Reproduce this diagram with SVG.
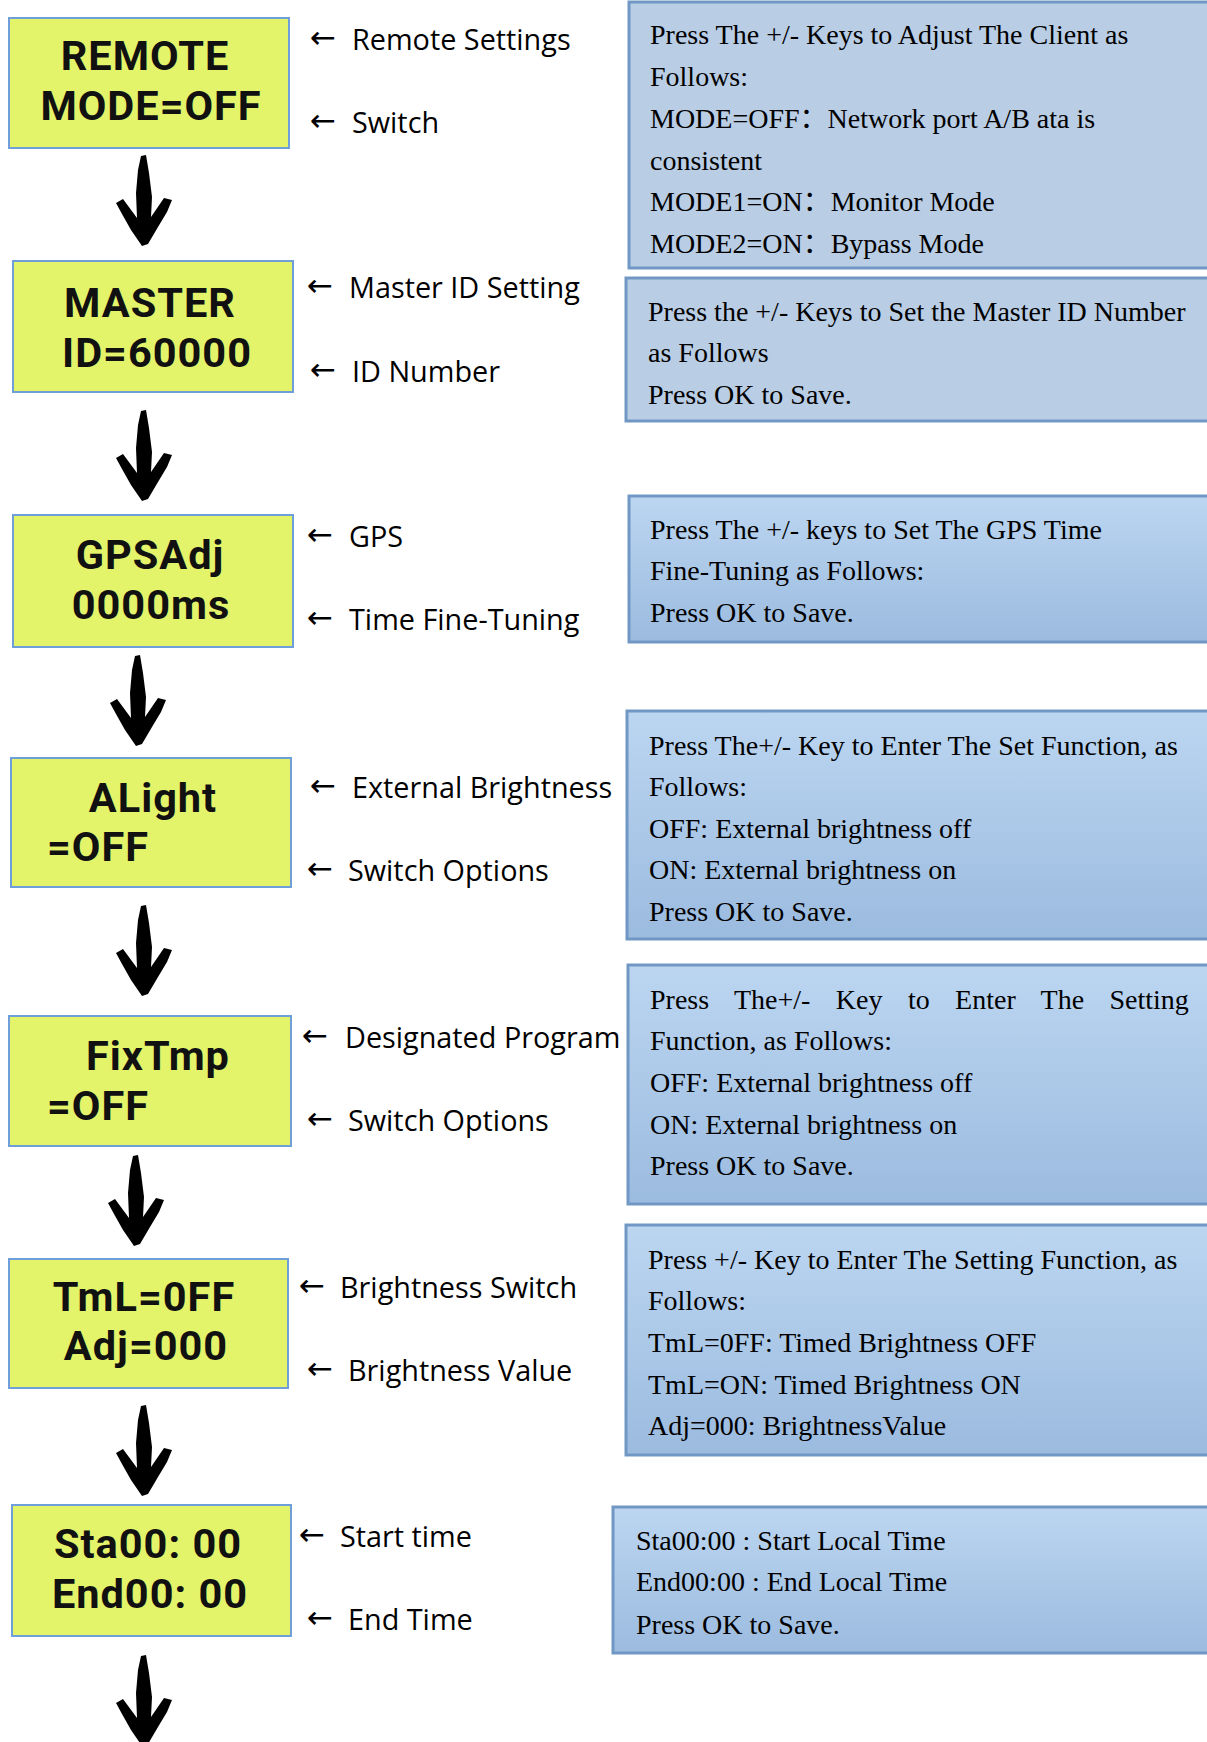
<svg xmlns="http://www.w3.org/2000/svg" width="1207" height="1742" viewBox="0 0 1207 1742">
<style>
.ybox{fill:#e3f36a;stroke:#6f9fd8;stroke-width:2}
.bflat{fill:#b9cde5;stroke:#7198c4;stroke-width:3}
.bgrad{fill:url(#bg);stroke:#7198c4;stroke-width:3}
.yt{font-family:Roboto,"Noto Sans",sans-serif;font-weight:bold;font-size:41.5px;letter-spacing:1px;fill:#111;text-anchor:middle}
.yl{text-anchor:start}
.lab{font-family:"Open Sans","Noto Sans",sans-serif;font-size:28.8px;fill:#000}
.arr{font-family:"DejaVu Sans",sans-serif;font-size:31px;fill:#000}
.bt{font-family:"Liberation Serif","Noto Sans CJK SC",serif;font-size:28px;fill:#000}
.hand{fill:#000}
</style>
<defs>
<linearGradient id="bg" x1="0" y1="0" x2="0" y2="1">
<stop offset="0" stop-color="#bcd6f1"/>
<stop offset="1" stop-color="#9bbbdf"/>
</linearGradient>
<path id="down" class="hand" d="M -3,-89 L 2,-90 L 5,-72 L 8,-48 L 7,-28 L 20,-47 L 28,-45 L 23,-33 L 14,-18 L 4,-1 L -2,1 L -13,-15 L -22,-31 L -28,-42 L -21,-46 L -7,-27 L -8,-52 L -6,-75 Z"/>
</defs>
<rect width="1207" height="1742" fill="#fff"/>

<g id="connectors">
<use href="#down" x="144" y="245"/>
<use href="#down" x="144" y="500"/>
<use href="#down" x="138" y="745"/>
<use href="#down" x="144" y="995"/>
<use href="#down" x="136" y="1245"/>
<use href="#down" x="144" y="1495"/>
<use href="#down" x="144" y="1745"/>
</g>

<g id="node-remote">
<rect class="ybox" x="9" y="18" width="280" height="130"/>
<text class="yt"><tspan x="145" y="70">REMOTE</tspan><tspan x="151" y="120">MODE=OFF</tspan></text>
</g>
<g id="label-remote">
<text class="arr" x="310" y="48">←</text><text class="lab" x="352" y="50">Remote Settings</text>
<text class="arr" x="310" y="131">←</text><text class="lab" x="352" y="133">Switch</text>
</g>
<g id="info-remote">
<rect class="bflat" x="629" y="2" width="580" height="266"/>
<text class="bt" x="650" y="44">Press The +/- Keys to Adjust The Client as</text>
<text class="bt" x="650" y="86">Follows:</text>
<text class="bt" x="650" y="128">MODE=OFF：Network port A/B ata is</text>
<text class="bt" x="650" y="170">consistent</text>
<text class="bt" x="650" y="211">MODE1=ON：Monitor Mode</text>
<text class="bt" x="650" y="253">MODE2=ON：Bypass Mode</text>
</g>

<g id="node-master">
<rect class="ybox" x="13" y="261" width="280" height="131"/>
<text class="yt"><tspan x="150" y="317">MASTER</tspan><tspan x="157" y="367">ID=60000</tspan></text>
</g>
<g id="label-master">
<text class="arr" x="307" y="296">←</text><text class="lab" x="349" y="298">Master ID Setting</text>
<text class="arr" x="310" y="380">←</text><text class="lab" x="352" y="382">ID Number</text>
</g>
<g id="info-master">
<rect class="bflat" x="626" y="278" width="583" height="143"/>
<text class="bt" x="648" y="321">Press the +/- Keys to Set the Master ID Number</text>
<text class="bt" x="648" y="362">as Follows</text>
<text class="bt" x="648" y="404">Press OK to Save.</text>
</g>

<g id="node-gps">
<rect class="ybox" x="13" y="515" width="280" height="132"/>
<text class="yt"><tspan x="150" y="569">GPSAdj</tspan><tspan x="151" y="619">0000ms</tspan></text>
</g>
<g id="label-gps">
<text class="arr" x="307" y="545">←</text><text class="lab" x="349" y="547">GPS</text>
<text class="arr" x="307" y="628">←</text><text class="lab" x="349" y="630">Time Fine-Tuning</text>
</g>
<g id="info-gps">
<rect class="bgrad" x="629" y="496" width="580" height="146"/>
<text class="bt" x="650" y="539">Press The +/- keys to Set The GPS Time</text>
<text class="bt" x="650" y="580">Fine-Tuning as Follows:</text>
<text class="bt" x="650" y="622">Press OK to Save.</text>
</g>

<g id="node-alight">
<rect class="ybox" x="11" y="758" width="280" height="129"/>
<text class="yt"><tspan x="153" y="812">ALight</tspan><tspan class="yl" x="47" y="861">=OFF</tspan></text>
</g>
<g id="label-alight">
<text class="arr" x="310" y="796">←</text><text class="lab" x="352" y="798">External Brightness</text>
<text class="arr" x="307" y="879">←</text><text class="lab" x="348" y="881">Switch Options</text>
</g>
<g id="info-alight">
<rect class="bgrad" x="627" y="711" width="582" height="228"/>
<text class="bt" x="649" y="755">Press The+/- Key to Enter The Set Function, as</text>
<text class="bt" x="649" y="796">Follows:</text>
<text class="bt" x="649" y="838">OFF: External brightness off</text>
<text class="bt" x="649" y="879">ON: External brightness on</text>
<text class="bt" x="649" y="921">Press OK to Save.</text>
</g>

<g id="node-fixtmp">
<rect class="ybox" x="9" y="1016" width="282" height="130"/>
<text class="yt"><tspan x="158" y="1070">FixTmp</tspan><tspan class="yl" x="47" y="1120">=OFF</tspan></text>
</g>
<g id="label-fixtmp">
<text class="arr" x="302" y="1046">←</text><text class="lab" x="345" y="1048">Designated Program</text>
<text class="arr" x="307" y="1129">←</text><text class="lab" x="348" y="1131">Switch Options</text>
</g>
<g id="info-fixtmp">
<rect class="bgrad" x="628" y="965" width="581" height="239"/>
<text class="bt" x="650" y="1009" word-spacing="18.4">Press The+/- Key to Enter The Setting</text>
<text class="bt" x="650" y="1050">Function, as Follows:</text>
<text class="bt" x="650" y="1092">OFF: External brightness off</text>
<text class="bt" x="650" y="1134">ON: External brightness on</text>
<text class="bt" x="650" y="1175">Press OK to Save.</text>
</g>

<g id="node-tml">
<rect class="ybox" x="9" y="1259" width="279" height="129"/>
<text class="yt"><tspan x="144" y="1311">TmL=0FF</tspan><tspan x="146" y="1360">Adj=000</tspan></text>
</g>
<g id="label-tml">
<text class="arr" x="299" y="1296">←</text><text class="lab" x="340" y="1298">Brightness Switch</text>
<text class="arr" x="307" y="1379">←</text><text class="lab" x="348" y="1381">Brightness Value</text>
</g>
<g id="info-tml">
<rect class="bgrad" x="626" y="1225" width="583" height="230"/>
<text class="bt" x="648" y="1269">Press +/- Key to Enter The Setting Function, as</text>
<text class="bt" x="648" y="1310">Follows:</text>
<text class="bt" x="648" y="1352">TmL=0FF: Timed Brightness OFF</text>
<text class="bt" x="648" y="1394">TmL=ON: Timed Brightness ON</text>
<text class="bt" x="648" y="1435">Adj=000: BrightnessValue</text>
</g>

<g id="node-time">
<rect class="ybox" x="12" y="1505" width="279" height="131"/>
<text class="yt"><tspan x="148" y="1558">Sta00: 00</tspan><tspan x="150" y="1608">End00: 00</tspan></text>
</g>
<g id="label-time">
<text class="arr" x="299" y="1545">←</text><text class="lab" x="340" y="1547">Start time</text>
<text class="arr" x="307" y="1628">←</text><text class="lab" x="348" y="1630">End Time</text>
</g>
<g id="info-time">
<rect class="bgrad" x="613" y="1507" width="596" height="146"/>
<text class="bt" x="636" y="1550">Sta00:00 : Start Local Time</text>
<text class="bt" x="636" y="1591">End00:00 : End Local Time</text>
<text class="bt" x="636" y="1634">Press OK to Save.</text>
</g>
</svg>
